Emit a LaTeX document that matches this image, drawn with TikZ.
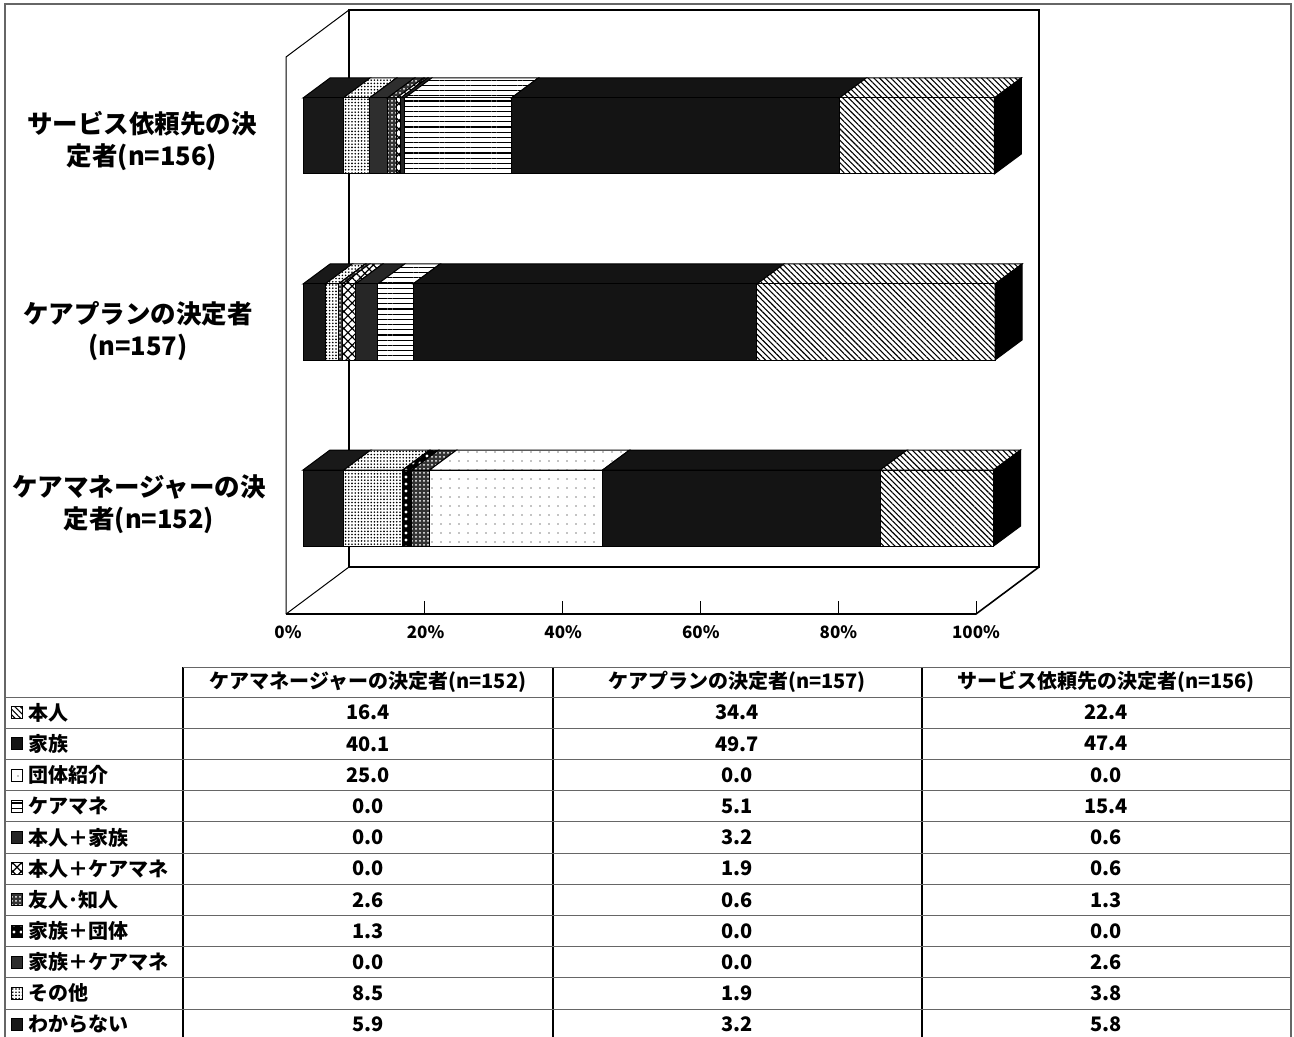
\documentclass[tikz,border=0pt]{standalone}
\usepackage{fontspec}
\setmainfont{Noto Sans CJK JP}
\usetikzlibrary{patterns.meta}

\tikzset{
  segline/.style={draw=black, line width=.5pt},
  honnin/.style={segline, preaction={fill=white}, pattern={Lines[angle=-45,distance=2pt,line width=.55pt]}},
  kazoku/.style={segline, fill=black!92},
  dantai/.style={segline, preaction={fill=white}, pattern={Dots[radius=.35pt,distance=4.5pt]}},
  caremane/.style={segline, preaction={fill=white}, pattern={Lines[angle=0,distance=2.6pt,line width=.6pt]}},
  hk/.style={segline, fill=black!85},
  hc/.style={segline, preaction={fill=white}, pattern={Hatch[angle=45,distance=3pt,line width=.6pt]}},
  yujin/.style={segline, preaction={fill=black!80}, pattern={Dots[radius=.5pt,distance=2pt]}, pattern color=white},
  kd/.style={segline, preaction={fill=black}, pattern={Dots[radius=.8pt,distance=3.5pt]}, pattern color=white},
  kc/.style={segline, fill=black!82},
  sonota/.style={segline, preaction={fill=white}, pattern={Dots[radius=.45pt,distance=1.6pt]}},
  wakaranai/.style={segline, fill=black!90},
  tabline/.style={black!60, line width=.5pt},
  catlabel/.style={align=center, font=\fontsize{12.75}{16}\selectfont\bfseries},
  axlabel/.style={font=\fontsize{8.5}{10}\selectfont\bfseries},
  cell/.style={font=\fontsize{10}{11}\selectfont\bfseries, inner sep=1pt},
}

% one 3-D stacked bar: #1 = top of front face, #2 = value/style list
\newcommand{\stackbar}[2]{%
  \gdef\acc{0}%
  \foreach \val/\st in {#2} {
    \pgfmathsetmacro\xa{303+6.92*\acc}
    \pgfmathsetmacro\nacc{\acc+\val}
    \xdef\acc{\nacc}
    \pgfmathsetmacro\xb{303+6.92*\acc}
    \ifdim\val pt>0pt
      \draw[\st] (\xa,#1) -- ++(27,-20) -- (\xb+27,#1-20) -- (\xb,#1) -- cycle;
      \draw[\st] (\xa,#1) rectangle (\xb,#1+76);
    \fi
  }
  \pgfmathsetmacro\xe{303+6.92*\acc}
  \filldraw[line width=.5pt] (\xe,#1) -- ++(27,-20) -- ++(0,76) -- (\xe,#1+76) -- cycle;
}

\begin{document}
\begin{tikzpicture}[x=0.5pt, y=-0.5pt]
  \useasboundingbox (0,0) rectangle (1294,1037);

  % Frame
  \draw[black!60, line width=.6pt] (5,1037) -- (5,4) -- (1291,4) -- (1291,1037);

  % Walls and floor
  \draw[line width=.5pt] (286,614) -- (286,57) -- (349,10);
  \draw[line width=1pt] (349,567) -- (349,10) -- (1039,10) -- (1039,567) -- cycle;
  \draw[line width=.8pt] (286,614) -- (976,614) -- (1039,567);
  \draw[line width=.5pt] (286,614) -- (349,567);
  \foreach \k in {1,...,5} \draw[line width=.5pt] (286+138*\k,614) -- ++(0,-13);

  % Bars
  \stackbar{98}{5.8/wakaranai, 3.8/sonota, 2.6/kc, 0/kd, 1.3/yujin, 0.6/hc, 0.6/hk, 15.4/caremane, 0/dantai, 47.4/kazoku, 22.4/honnin}
  \stackbar{284}{3.2/wakaranai, 1.9/sonota, 0/kc, 0/kd, 0.6/yujin, 1.9/hc, 3.2/hk, 5.1/caremane, 0/dantai, 49.7/kazoku, 34.4/honnin}
  \stackbar{470}{5.9/wakaranai, 8.5/sonota, 0/kc, 1.3/kd, 2.6/yujin, 0/hc, 0/hk, 0/caremane, 25.0/dantai, 40.1/kazoku, 16.4/honnin}

  % Axis
  \foreach \p [count=\k from 0] in {0,20,40,60,80,100}
    \node[axlabel] (ax\p) at (288+137.6*\k,632) {\p\%};

  % Category labels
  \node[catlabel] (catsv) at (142,141) {サービス依頼先の決\\定者(n=156)};
  \node[catlabel] (catcp) at (138,331) {ケアプランの決定者\\(n=157)};
  \node[catlabel] (catcm) at (139,504) {ケアマネージャーの決\\定者(n=152)};

  % Table
  \foreach \x in {183,553,922} \draw[line width=.6pt] (\x,667) -- (\x,1037);
  \draw[tabline] (183,667) -- (1291,667);
  \foreach \i in {0,...,10} \draw[tabline] (5,697+31.2*\i) -- (1291,697+31.2*\i);
  \node[cell] (hcm) at (368,682) {ケアマネージャーの決定者(n=152)};
  \node[cell] (hcp) at (737,682) {ケアプランの決定者(n=157)};
  \node[cell] (hsv) at (1106,682) {サービス依頼先の決定者(n=156)};
  \foreach \lab/\st/\a/\b/\c [count=\i] in {本人/honnin/16.4/34.4/22.4, 家族/kazoku/40.1/49.7/47.4,
      団体紹介/dantai/25.0/0.0/0.0, ケアマネ/caremane/0.0/5.1/15.4, 本人＋家族/hk/0.0/3.2/0.6,
      本人＋ケアマネ/hc/0.0/1.9/0.6, 友人･知人/yujin/2.6/0.6/1.3, 家族＋団体/kd/1.3/0.0/0.0,
      家族＋ケアマネ/kc/0.0/0.0/2.6, その他/sonota/8.5/1.9/3.8, わからない/wakaranai/5.9/3.2/5.8} {
    \pgfmathsetmacro\yc{697+31.2*\i-15.6}
    \draw[\st, line width=.4pt] (11,\yc-6) rectangle (22,\yc+6);
    \node[cell, anchor=west] (lab\i) at (26,\yc) {\lab};
    \node[cell] (cm\i) at (368,\yc) {\a};
    \node[cell] (cp\i) at (737,\yc) {\b};
    \node[cell] (sv\i) at (1106,\yc) {\c};
  }
\end{tikzpicture}
\end{document}
